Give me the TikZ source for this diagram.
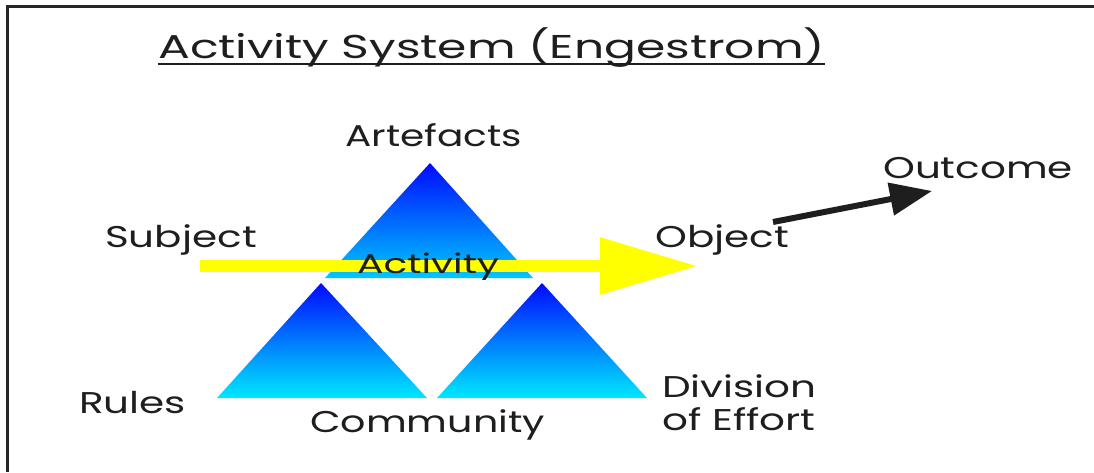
\documentclass[tikz,border=0pt]{standalone}
\usepackage{fontspec}
\setmainfont{Poppins}
\usetikzlibrary{arrows.meta}
\definecolor{inktext}{HTML}{1E1E1E}
\definecolor{tritop}{RGB}{0,10,255}
\definecolor{tribottom}{RGB}{0,232,255}
\definecolor{tribase}{RGB}{0,200,255}
\definecolor{actyellow}{RGB}{255,255,0}
% wide lettering
\newcommand{\wtxt}[2][1.35]{\scalebox{#1}[1]{#2}}
\begin{document}
\begin{tikzpicture}[x=1pt,y=-1pt,
  lbl/.style={inner sep=0pt, anchor=base west, text=inktext,
    font=\fontsize{30}{34}\selectfont},
  tri/.style={top color=tritop, bottom color=tribottom},
  flow/.style={actyellow, line width=12.5pt,
    -{Triangle[length=98pt,width=54pt]}},
  result/.style={inktext, line width=6pt,
    -{Triangle[length=42pt,width=32pt]}}]
\useasboundingbox (0,0) rectangle (1094,472);
\fill[white] (0,0) rectangle (1094,472);
% frame
\draw[line width=3pt, black!85] (7.5,472) -- (7.5,6) -- (1094,6);

% title
\node[lbl, font=\fontsize{33}{38}\selectfont] (title) at (158,58)
  {\wtxt[1.43]{Activity System (Engestrom)}};
\draw[inktext, line width=1.5pt] ([yshift=-6pt]title.base west)
  -- ([yshift=-6pt]title.base east);

% triangles
\coordinate (artapex) at (430,163);
\coordinate (ruleapex) at (321,283);
\coordinate (divapex) at (542,283);
\shade[top color=tritop, bottom color=tribase]
  (artapex) -- (533,278) -- (325,278) -- cycle;
\shade[tri] (ruleapex) -- (427,398) -- (217,398) -- cycle;
\shade[tri] (divapex) -- (647,398) -- (437,398) -- cycle;

% activity flow
\coordinate (actstart) at (200,266);
\coordinate (actend) at (698,266);
\draw[flow] (actstart) -- (actend);
\node[lbl, font=\fontsize{27}{30}\selectfont] (activity) at (357,273)
  {\wtxt[1.45]{Activity}};

% labels
\node[lbl] (artefacts) at (345,146) {\wtxt[1.3]{Artefacts}};
\node[lbl] (subject) at (105,247) {\wtxt{Subject}};
\node[lbl] (object) at (655,247) {\wtxt{Object}};
\node[lbl] (outcome) at (883,178) {\wtxt{Outcome}};
\node[lbl] (rules) at (79,413) {\wtxt{Rules}};
\node[lbl] (community) at (310,432) {\wtxt[1.32]{Community}};
\node[lbl] (division) at (662,397) {\wtxt{Division}};
\node[lbl] (effort) at (662,430) {\wtxt{of Effort}};

% object to outcome
\coordinate (objtail) at (773,222);
\coordinate (outtip) at (932,191);
\draw[result] (objtail) -- (outtip);
\end{tikzpicture}
\end{document}
